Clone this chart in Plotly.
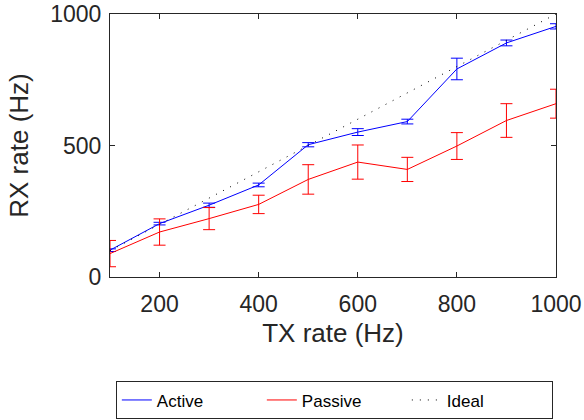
import plotly.graph_objects as go

tx = [100, 200, 300, 400, 500, 600, 700, 800, 900, 1000]
active = [102, 203, 273, 350, 503, 551, 591, 791, 890, 953]
active_err = [5, 5, 8, 7, 8, 13, 9, 41, 11, 10]
passive = [89, 171, 222, 276, 371, 437, 409, 498, 595, 659]
passive_err = [50, 50, 42, 35, 56, 65, 46, 51, 64, 55]
ideal = [100, 200, 300, 400, 500, 600, 700, 800, 900, 1000]

font = "Liberation Sans, Arial, Helvetica, sans-serif"
fig = go.Figure()
fig.add_trace(go.Scatter(x=tx, y=active, mode="lines", name="Active",
                         line=dict(color="#0000ff", width=1),
                         error_y=dict(type="data", array=active_err, color="#0000ff",
                                      thickness=1, width=6),
                         cliponaxis=False))
fig.add_trace(go.Scatter(x=tx, y=passive, mode="lines", name="Passive",
                         line=dict(color="#ff0000", width=1),
                         error_y=dict(type="data", array=passive_err, color="#ff0000",
                                      thickness=1, width=6),
                         cliponaxis=False))
fig.add_trace(go.Scatter(x=tx, y=ideal, mode="lines", name="Ideal",
                         line=dict(color="#000000", width=1, dash="1px,7px")))

axis_common = dict(showgrid=False, zeroline=False, showline=True, linecolor="#262626",
                   linewidth=1, mirror="ticks", ticks="inside", ticklen=5,
                   tickcolor="#262626", tickfont=dict(size=23, color="#262626", family=font))
fig.update_xaxes(range=[100, 1000], tickvals=[200, 400, 600, 800, 1000],
                 ticklabelstandoff=6,
                 title=dict(text="TX rate (Hz)", font=dict(size=26, color="#262626", family=font),
                            standoff=8), **axis_common)
fig.update_yaxes(range=[0, 1000], tickvals=[0, 500, 1000],
                 ticklabelstandoff=3,
                 title=dict(text="RX rate (Hz)", font=dict(size=26, color="#262626", family=font),
                            standoff=14), **axis_common)
fig.update_layout(width=584, height=420,
                  margin=dict(l=110, r=28, t=14, b=143, autoexpand=False),
                  plot_bgcolor="white", paper_bgcolor="white",
                  font=dict(family=font, color="#262626"),
                  showlegend=True,
                  legend=dict(orientation="h", x=0.503, xanchor="center", y=-0.397, yanchor="top",
                              bordercolor="#262626", borderwidth=1,
                              font=dict(size=17, color="#000000", family=font),
                              entrywidth=100, tracegroupgap=0, itemwidth=30))
fig.write_html("out.html")
